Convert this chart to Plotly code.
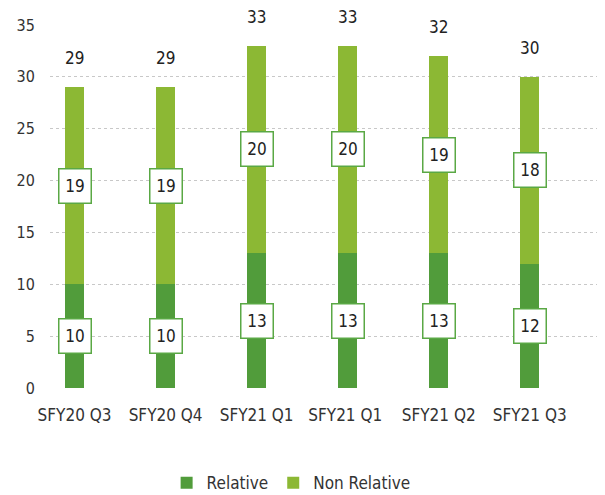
import plotly.graph_objects as go

categories = ["SFY20 Q3", "SFY20 Q4", "SFY21 Q1", "SFY21 Q1 ", "SFY21 Q2", "SFY21 Q3"]
relative = [10, 10, 13, 13, 13, 12]
non_relative = [19, 19, 20, 20, 19, 18]
totals = [r + n for r, n in zip(relative, non_relative)]

DARK = "#519c3b"
LIGHT = "#8cb834"
FONT = "DejaVu Sans Condensed, Liberation Sans Narrow, Liberation Sans, Arial"

fig = go.Figure()
fig.add_trace(go.Bar(x=categories, y=relative, name="Relative",
                     marker=dict(color=DARK, line=dict(width=0)), width=0.21))
fig.add_trace(go.Bar(x=categories, y=non_relative, name="Non Relative",
                     marker=dict(color=LIGHT, line=dict(width=0)), width=0.21))

anns = []
for c, r, n, t in zip(categories, relative, non_relative, totals):
    for val, mid in ((r, r / 2), (n, r + n / 2)):
        anns.append(dict(x=c, y=mid, text=str(val), showarrow=False,
                         font=dict(family=FONT, size=17, color="#222"),
                         bgcolor="white", bordercolor="#5aa845", borderwidth=1.5,
                         width=27, height=29, borderpad=2, xref="x", yref="y"))
    anns.append(dict(x=c, y=t, text=str(t), showarrow=False, yshift=29,
                     font=dict(family=FONT, size=17, color="#222"),
                     xref="x", yref="y"))

fig.update_layout(
    width=597, height=487,
    margin=dict(l=42, r=7, t=17, b=107, autoexpand=False),
    barmode="stack",
    plot_bgcolor="white", paper_bgcolor="white",
    font=dict(family=FONT, size=16, color="#333"),
    annotations=anns,
    showlegend=True,
    legend=dict(orientation="h", x=0.44, xanchor="center", y=-0.262, yanchor="middle",
                font=dict(family=FONT, size=17, color="#333"), traceorder="normal",
                itemwidth=30),
    xaxis=dict(range=[-0.27, 5.75], showgrid=False, zeroline=False, showline=False,
               ticks="outside", ticklen=12, tickcolor="rgba(0,0,0,0)",
               tickfont=dict(family=FONT, size=17, color="#333")),
    yaxis=dict(range=[0, 35], dtick=5, showgrid=True, gridcolor="#c8c8c8",
               griddash="dot", gridwidth=1, zeroline=False, showline=False,
               ticks="outside", ticklen=11, tickcolor="rgba(0,0,0,0)",
               tickfont=dict(family=FONT, size=16, color="#333")),
)
fig.write_html("out.html")
